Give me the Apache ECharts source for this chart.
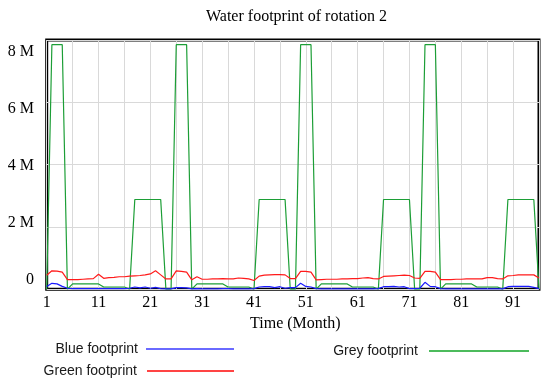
<!DOCTYPE html>
<html>
<head>
<meta charset="utf-8">
<script src="https://cdn.jsdelivr.net/npm/echarts@6/dist/echarts.min.js"></script>
<style>html,body{margin:0;padding:0;background:#fff}#c{width:550px;height:384px}</style>
</head>
<body>
<div id="c"></div>
<script>
// Months (category axis)
var months = [1,2,3,4,5,6,7,8,9,10,11,12,13,14,15,16,17,18,19,20,21,22,23,24,25,26,27,28,29,30,31,32,33,34,35,36,37,38,39,40,41,42,43,44,45,46,47,48,49,50,51,52,53,54,55,56,57,58,59,60,61,62,63,64,65,66,67,68,69,70,71,72,73,74,75,76,77,78,79,80,81,82,83,84,85,86,87,88,89,90,91,92,93,94,95,96];

// Values in millions
var blueFootprint = [
0.09,0.19,0.17,0.09,0.03,0.02,0.02,0.02,0.02,0.02,
0.02,0.02,0.02,0.02,0.02,0.02,0.03,0.07,0.04,0.07,
0.03,0.06,0.02,0.01,0.01,0.05,0.05,0.04,0.01,0.02,
0.01,0.01,0.01,0.01,0.02,0.02,0.01,0.01,0.01,0.01,
0.02,0.07,0.08,0.08,0.05,0.08,0.03,0.05,0.05,0.19,
0.09,0.07,0.02,0.01,0.01,0.01,0.01,0.01,0.01,0.01,
0.01,0.01,0.01,0.01,0.02,0.08,0.08,0.09,0.07,0.08,
0.02,0.02,0.03,0.22,0.09,0.08,0.02,0.01,0.01,0.01,
0.01,0.01,0.01,0.01,0.01,0.01,0.01,0.01,0.01,0.08,
0.09,0.09,0.09,0.09,0.06,0.02];

var greenFootprint = [
0.45,0.59,0.58,0.55,0.31,0.31,0.31,0.32,0.33,0.34,
0.48,0.35,0.37,0.38,0.40,0.40,0.42,0.43,0.44,0.46,
0.49,0.59,0.46,0.33,0.33,0.59,0.57,0.55,0.30,0.40,
0.32,0.32,0.33,0.33,0.34,0.33,0.33,0.36,0.35,0.33,
0.28,0.42,0.45,0.46,0.47,0.47,0.46,0.34,0.34,0.57,
0.57,0.55,0.30,0.31,0.32,0.32,0.32,0.33,0.33,0.34,
0.34,0.36,0.37,0.34,0.33,0.41,0.42,0.43,0.44,0.45,
0.44,0.36,0.35,0.57,0.57,0.55,0.31,0.31,0.31,0.32,
0.32,0.33,0.33,0.33,0.33,0.37,0.37,0.34,0.33,0.43,
0.44,0.46,0.46,0.46,0.46,0.36];

var greyFootprint = [
0,7.85,7.85,7.85,0,0.17,0.17,0.17,0.17,0.17,
0.17,0.07,0.07,0.07,0.07,0.07,0,2.88,2.88,2.88,
2.88,2.88,2.88,0,0,7.85,7.85,7.85,0,0.17,
0.17,0.17,0.17,0.17,0.17,0.07,0.07,0.07,0.07,0.07,
0,2.88,2.88,2.88,2.88,2.88,2.88,0,0,7.85,
7.85,7.85,0,0.17,0.17,0.17,0.17,0.17,0.17,0.07,
0.07,0.07,0.07,0.07,0,2.88,2.88,2.88,2.88,2.88,
2.88,0,0,7.85,7.85,7.85,0,0.17,0.17,0.17,
0.17,0.17,0.17,0.07,0.07,0.07,0.07,0.07,0,2.88,
2.88,2.88,2.88,2.88,2.88,0];

var yTicks = [0, 2, 4, 6, 8];
var titleText = 'Water footprint of rotation 2';
var xName = 'Time (Month)';
var seriesNames = ['Blue footprint', 'Green footprint', 'Grey footprint'];

var serif = '"Liberation Serif", "Times New Roman", serif';
var sans = '"Liberation Sans", Arial, sans-serif';

var chart = echarts.init(document.getElementById('c'), null, {renderer: 'canvas'});
var legendText = function (pad) {
  return {fontFamily: sans, fontSize: 14, color: '#1a1a1a', padding: pad};
};
chart.setOption({
  animation: false,
  backgroundColor: '#fff',
  title: {
    text: titleText, left: 206, top: 9, padding: 0,
    textStyle: {fontFamily: serif, fontSize: 16, fontWeight: 'normal', color: '#000'}
  },
  grid: [
    {left: 46.7, right: 11, top: 40, bottom: 94.8, show: true, borderColor: '#000', borderWidth: 3, backgroundColor: 'transparent'},
    {left: 46.7, right: 11, top: 51.7, bottom: 104.7, show: false}
  ],
  xAxis: [
    {
      gridIndex: 0, type: 'category', data: months, boundaryGap: false,
      axisLine: {show: false}, axisTick: {show: false},
      axisLabel: {interval: 9, fontFamily: serif, fontSize: 16, color: '#000', margin: 6},
      splitLine: {show: true, interval: 4, lineStyle: {color: '#d9d9d9', width: 1}},
      name: xName, nameLocation: 'middle', nameGap: 27,
      nameTextStyle: {fontFamily: serif, fontSize: 16, color: '#000', padding: [0, 0, 0, 5]}
    },
    {gridIndex: 1, type: 'value', show: false}
  ],
  yAxis: [
    {
      gridIndex: 0, type: 'value', min: yTicks[0], max: yTicks[yTicks.length - 1], interval: 2,
      axisLine: {show: false}, axisTick: {show: false}, axisLabel: {show: false},
      splitLine: {show: true, lineStyle: {color: '#d9d9d9', width: 1}}
    },
    {
      gridIndex: 1, type: 'value', min: yTicks[0], max: yTicks[yTicks.length - 1], interval: 2,
      axisLine: {show: false}, axisTick: {show: false}, splitLine: {show: false},
      axisLabel: {
        margin: 12.7, fontFamily: serif, fontSize: 16, color: '#000',
        formatter: function (v) { return v === 0 ? '0' : v + ' M'; }
      }
    }
  ],
  legend: [
    {data: [{name: seriesNames[0], itemStyle: {color: '#6a6aff'}}], right: 316, top: 342, padding: 0, align: 'right',
     icon: 'rect', itemWidth: 88, itemHeight: 2, textStyle: legendText([0, 3, 0, 0])},
    {data: [{name: seriesNames[1], itemStyle: {color: '#ff4444'}}], right: 316, top: 364, padding: 0, align: 'right',
     icon: 'rect', itemWidth: 87, itemHeight: 2, textStyle: legendText([0, 5, 0, 0])},
    {data: [{name: seriesNames[2], itemStyle: {color: '#4cbb5c'}}], right: 21, top: 344, padding: 0, align: 'right',
     icon: 'rect', itemWidth: 100, itemHeight: 2, textStyle: legendText([0, 6, 0, 0])}
  ],
  series: [
    {name: seriesNames[0], type: 'line', xAxisIndex: 0, yAxisIndex: 0, data: blueFootprint, showSymbol: false, symbol: 'none',
     lineStyle: {color: '#1a1aff', width: 1.2}, itemStyle: {color: '#1a1aff'}, z: 4},
    {name: seriesNames[1], type: 'line', xAxisIndex: 0, yAxisIndex: 0, data: greenFootprint, showSymbol: false, symbol: 'none',
     lineStyle: {color: '#ff1a1a', width: 1.2}, itemStyle: {color: '#ff1a1a'}, z: 3},
    {name: seriesNames[2], type: 'line', xAxisIndex: 0, yAxisIndex: 0, data: greyFootprint, showSymbol: false, symbol: 'none',
     lineStyle: {color: '#1c9e36', width: 1.2}, itemStyle: {color: '#1c9e36'}, z: 2}
  ]
});
</script>
</body>
</html>
